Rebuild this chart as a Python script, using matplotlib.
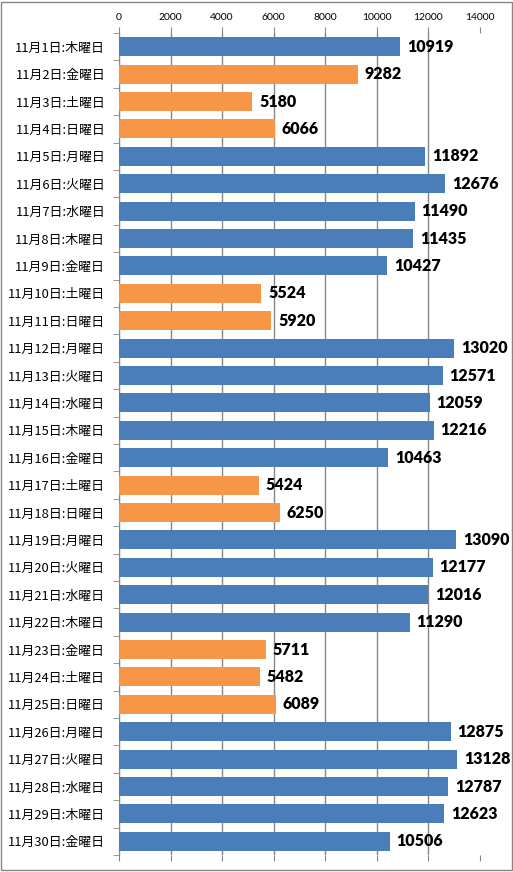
import matplotlib
matplotlib.use('Agg')
import matplotlib.pyplot as plt
from matplotlib.patches import Rectangle

plt.rcParams['font.family'] = ['Noto Sans CJK JP', 'DejaVu Sans']

days = list(range(1, 31))
weekdays = ['木', '金', '土', '日', '月', '火', '水']
values = [10919, 9282, 5180, 6066, 11892, 12676, 11490, 11435, 10427, 5524,
          5920, 13020, 12571, 12059, 12216, 10463, 5424, 6250, 13090, 12177,
          12016, 11290, 5711, 5482, 6089, 12875, 13128, 12787, 12623, 10506]
holidays = [2, 3, 4, 10, 11, 17, 18, 23, 24, 25]

labels = [f'11月{d}日:{weekdays[(d - 1) % 7]}曜日' for d in days]
colors = ['#F79646' if d in holidays else '#4A7EBB' for d in days]

fig = plt.figure(figsize=(5.13, 8.72), dpi=100)
ax = fig.add_axes([119/513, 1 - 855/872, (479.5 - 119)/513, (855 - 33)/872])

y = list(range(len(days)))
ax.barh(y, values, height=0.7, color=colors, zorder=3)
for yi, v in zip(y, values):
    ax.text(v + 260, yi, str(v), va='center', ha='left', fontsize=11.5,
            fontweight='heavy', family='Lato', zorder=4)

ax.set_xlim(0, 14000)
ax.set_ylim(len(days) - 0.5, -0.5)
ax.set_xticks(range(0, 14001, 2000))
ax.set_yticks(y)
ax.set_yticklabels(labels, fontsize=9.3)
ax.xaxis.tick_top()
ax.tick_params(axis='x', top=True, bottom=True, labeltop=True, labelbottom=False,
               length=4, color='#868686', labelsize=7.5, pad=4)
ax.set_yticks([i - 0.5 for i in range(len(days) + 1)], minor=True)
ax.tick_params(axis='y', which='major', length=0, pad=10)
ax.tick_params(axis='y', which='minor', length=4, color='#868686')
for lbl in ax.get_xticklabels():
    lbl.set_family('Lato')

ax.grid(axis='x', color='#868686', linewidth=1, zorder=0)
for side in ['top', 'right', 'bottom']:
    ax.spines[side].set_visible(False)
ax.spines['left'].set_color('#868686')

fig.patches.append(Rectangle((0.002, 0.002), 0.996, 0.996, transform=fig.transFigure,
                             fill=False, edgecolor='#868686', linewidth=1))

fig.savefig('out.png', dpi=100)
